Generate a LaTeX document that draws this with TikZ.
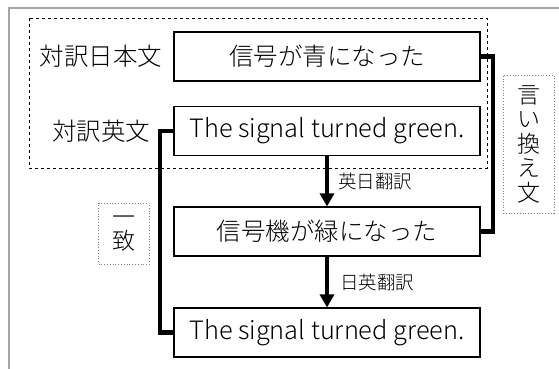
\documentclass[tikz,border=0pt]{standalone}
\usepackage{fontspec}
\setmainfont{Noto Sans CJK JP}[UprightFont={* Light}]
\usetikzlibrary{arrows.meta}
\begin{document}
\begin{tikzpicture}[x=1pt,y=-1pt,
  sentbox/.style={draw, line width=1.1pt, minimum width=306pt, minimum height=49pt, inner sep=0pt, font=\fontsize{24.5}{27}\selectfont},
  entext/.style={font=\fontsize{25.3}{27}\selectfont},
  lbl/.style={font=\fontsize{24.5}{27}\selectfont, inner sep=0pt},
  arrlbl/.style={font=\fontsize{18.5}{21}\selectfont, inner sep=0pt, anchor=west},
  bracket/.style={line width=4.5pt},
  flow/.style={line width=3.8pt, -{Triangle[width=14pt,length=13pt]}},
  dotbox/.style={draw=gray, dotted, line width=0.8pt, inner sep=0pt, align=center, font=\fontsize{23}{24.5}\selectfont}]
\useasboundingbox (0,0) rectangle (559,369);
\draw[gray!70, line width=1.5pt] (9,369) -- (9,8) -- (560,8);
\draw[dashed, line width=0.9pt] (29,18) rectangle (487,168);
\node[sentbox] (ja) at (327,56.5) {信号が青になった};
\node[sentbox, entext] (en) at (327,131) {The signal turned green.};
\node[sentbox] (para) at (327,231.5) {信号機が緑になった};
\node[sentbox, entext] (back) at (327,332.5) {The signal turned green.};
\node[lbl] (lja) at (101,56.5) {対訳日本文};
\node[lbl] (len) at (101,131) {対訳英文};
\coordinate (lb) at (160,0);
\coordinate (rb) at (493,0);
\draw[bracket] (en.west) -- (lb |- en.west) -- (lb |- back.west) -- (back.west);
\draw[bracket] (ja.east) -- (rb |- ja.east) -- (rb |- para.east) -- (para.east);
\draw[flow] (en.south) -- (para.north);
\draw[flow] (para.south) -- (back.north);
\node[arrlbl] (ej) at (338,181) {英日翻訳};
\node[arrlbl] (je) at (340,282) {日英翻訳};
\node[dotbox, minimum width=51pt, minimum height=61pt] (itchi) at (124,233.5) {一\\致};
\node[dotbox, minimum width=51pt, minimum height=138pt] (iikae) at (528.5,144) {言\\い\\換\\え\\文};
\end{tikzpicture}
\end{document}
